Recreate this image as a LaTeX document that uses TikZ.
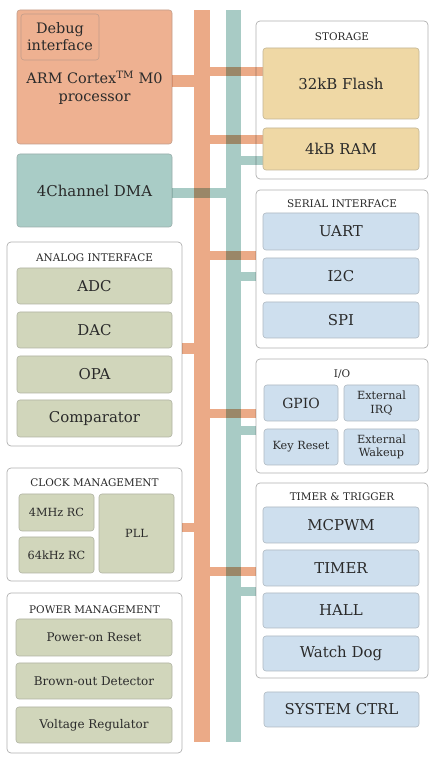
\documentclass[tikz,border=0pt]{standalone}
\usepackage{fontspec}
\setmainfont{DejaVu Serif}
\definecolor{busorange}{HTML}{EBAA87}
\definecolor{busteal}{HTML}{A8CBC5}
\definecolor{armfill}{HTML}{EEB191}
\definecolor{dmafill}{HTML}{A9CCC6}
\definecolor{memfill}{HTML}{EFD8A5}
\definecolor{perfill}{HTML}{CEDFEE}
\definecolor{anafill}{HTML}{D1D6BB}
\definecolor{grpline}{HTML}{B0B0B0}
\definecolor{txtgray}{HTML}{2A2A2A}
\tikzset{
  grp/.style={draw=grpline,fill=white,rounded corners=4bp,line width=0.7bp,inner sep=0pt},
  blk/.style={draw=#1!60!gray,fill=#1,rounded corners=3bp,line width=0.6bp,inner sep=1bp,
    align=center,text=txtgray,font=\fontsize{15}{17}\selectfont},
  grptitle/.style={text=txtgray,font=\fontsize{10.5}{12}\selectfont},
  smalltext/.style={font=\fontsize{12}{14}\selectfont},
  tinytext/.style={font=\fontsize{11.3}{13.5}\selectfont},
  bus/.style={draw=none,inner sep=0pt,minimum height=732bp},
  syslink/.style={busorange,line width=9bp,blend mode=multiply},
  dmalink/.style={busteal,line width=9bp,blend mode=multiply},
}
\begin{document}
\begin{tikzpicture}[>=latex,line join=bevel,]
\useasboundingbox (0bp,0bp) rectangle (438bp,762bp);
%% groups
\node (grp_storage) at (342bp,662bp) [grp,minimum width=172bp,minimum height=158bp] {};
  \node (grp_serial) at (342bp,493bp) [grp,minimum width=172bp,minimum height=158bp] {};
  \node (grp_io) at (342bp,346bp) [grp,minimum width=172bp,minimum height=114bp] {};
  \node (grp_timer) at (342bp,181.5bp) [grp,minimum width=172bp,minimum height=195bp] {};
  \node (grp_analog) at (94.5bp,418bp) [grp,minimum width=175bp,minimum height=204bp] {};
  \node (grp_clock) at (94.5bp,237.5bp) [grp,minimum width=175bp,minimum height=113bp] {};
  \node (grp_power) at (94.5bp,89bp) [grp,minimum width=175bp,minimum height=160bp] {};
%% buses
\node (bus_sys) at (202bp,386bp) [bus,fill=busorange,minimum width=16bp] {};
  \node (bus_dma) at (233.5bp,386bp) [bus,fill=busteal,minimum width=15bp] {};
%% masters
\node (blk_arm) at (94.5bp,685bp) [blk=armfill,minimum width=155bp,minimum height=134bp] {};
  \node (blk_debug) at (60bp,725bp) [blk=armfill,minimum width=78bp,minimum height=46bp,font=\fontsize{14.5}{17}\selectfont] {Debug\\interface};
  \node (lbl_arm) at (94.5bp,674bp) [align=center,text=txtgray,font=\fontsize{14.5}{18}\selectfont] {ARM Cortex\textsuperscript{TM} M0\\processor};
  \node (blk_dma) at (94.5bp,571.5bp) [blk=dmafill,minimum width=155bp,minimum height=73bp] {4Channel DMA};
%% ports
\coordinate (port_arm) at (172bp,680.5bp);
  \coordinate (port_dma) at (172bp,569bp);
  \coordinate (port_flash) at (263bp,690.5bp);
  \coordinate (port_ram_s) at (263bp,622.5bp);
  \coordinate (port_ram_d) at (263bp,601.5bp);
  \coordinate (port_serial_s) at (256bp,506bp);
  \coordinate (port_serial_d) at (256bp,485bp);
  \coordinate (port_analog) at (182bp,413.5bp);
  \coordinate (port_io_s) at (256bp,348bp);
  \coordinate (port_io_d) at (256bp,331bp);
  \coordinate (port_clock) at (182bp,234.5bp);
  \coordinate (port_timer_s) at (256bp,190.5bp);
  \coordinate (port_timer_d) at (256bp,170.5bp);
%% links
\draw [syslink,line width=12bp] (port_arm) -- (port_arm -| bus_sys.west);
  \draw [dmalink,line width=10bp] (port_dma) -- (port_dma -| bus_dma.west);
  \draw [syslink] (bus_sys.east |- port_flash) -- (port_flash);
  \draw [syslink] (bus_sys.east |- port_ram_s) -- (port_ram_s);
  \draw [dmalink] (bus_dma.east |- port_ram_d) -- (port_ram_d);
  \draw [syslink] (bus_sys.east |- port_serial_s) -- (port_serial_s);
  \draw [dmalink] (bus_dma.east |- port_serial_d) -- (port_serial_d);
  \draw [syslink,line width=11bp] (port_analog) -- (port_analog -| bus_sys.west);
  \draw [syslink] (bus_sys.east |- port_io_s) -- (port_io_s);
  \draw [dmalink] (bus_dma.east |- port_io_d) -- (port_io_d);
  \draw [syslink] (port_clock) -- (port_clock -| bus_sys.west);
  \draw [syslink] (bus_sys.east |- port_timer_s) -- (port_timer_s);
  \draw [dmalink] (bus_dma.east |- port_timer_d) -- (port_timer_d);
%% storage
\node (ttl_storage) at (342bp,725bp) [grptitle] {STORAGE};
  \node (blk_flash) at (341bp,678.5bp) [blk=memfill,minimum width=156bp,minimum height=71bp] {32kB Flash};
  \node (blk_ram) at (341bp,613bp) [blk=memfill,minimum width=156bp,minimum height=42bp] {4kB RAM};
%% serial interface
\node (ttl_serial) at (342bp,558bp) [grptitle] {SERIAL INTERFACE};
  \node (blk_uart) at (341bp,530.5bp) [blk=perfill,minimum width=156bp,minimum height=37bp] {UART};
  \node (blk_i2c) at (341bp,486bp) [blk=perfill,minimum width=156bp,minimum height=36bp] {I2C};
  \node (blk_spi) at (341bp,442bp) [blk=perfill,minimum width=156bp,minimum height=36bp] {SPI};
%% i/o
\node (ttl_io) at (342bp,388bp) [grptitle] {I/O};
  \node (blk_gpio) at (301bp,359bp) [blk=perfill,minimum width=74bp,minimum height=36bp,font=\fontsize{14}{16}\selectfont] {GPIO};
  \node (blk_irq) at (381.5bp,359bp) [blk=perfill,tinytext,minimum width=75bp,minimum height=36bp] {External\\IRQ};
  \node (blk_key) at (301bp,315bp) [blk=perfill,tinytext,minimum width=74bp,minimum height=36bp] {Key Reset};
  \node (blk_wake) at (381.5bp,315bp) [blk=perfill,tinytext,minimum width=75bp,minimum height=36bp] {External\\Wakeup};
%% timer & trigger
\node (ttl_timer) at (342bp,265bp) [grptitle] {TIMER \& TRIGGER};
  \node (blk_mcpwm) at (341bp,237bp) [blk=perfill,minimum width=156bp,minimum height=36bp] {MCPWM};
  \node (blk_timer) at (341bp,194bp) [blk=perfill,minimum width=156bp,minimum height=36bp] {TIMER};
  \node (blk_hall) at (341bp,151.5bp) [blk=perfill,minimum width=156bp,minimum height=35bp] {HALL};
  \node (blk_wdog) at (341bp,108.5bp) [blk=perfill,minimum width=156bp,minimum height=35bp] {Watch Dog};
  \node (blk_sysctrl) at (341.5bp,52.5bp) [blk=perfill,minimum width=155bp,minimum height=35bp] {SYSTEM CTRL};
%% analog interface
\node (ttl_analog) at (94.5bp,504bp) [grptitle] {ANALOG INTERFACE};
  \node (blk_adc) at (94.5bp,476bp) [blk=anafill,minimum width=155bp,minimum height=36bp] {ADC};
  \node (blk_dac) at (94.5bp,432bp) [blk=anafill,minimum width=155bp,minimum height=36bp] {DAC};
  \node (blk_opa) at (94.5bp,387.5bp) [blk=anafill,minimum width=155bp,minimum height=37bp] {OPA};
  \node (blk_comp) at (94.5bp,343.5bp) [blk=anafill,minimum width=155bp,minimum height=37bp] {Comparator};
%% clock management
\node (ttl_clock) at (94.5bp,279bp) [grptitle] {CLOCK MANAGEMENT};
  \node (blk_rc4) at (56.5bp,249.5bp) [blk=anafill,tinytext,minimum width=75bp,minimum height=37bp] {4MHz RC};
  \node (blk_rc64) at (56.5bp,207bp) [blk=anafill,tinytext,minimum width=75bp,minimum height=36bp] {64kHz RC};
  \node (blk_pll) at (136.5bp,228.5bp) [blk=anafill,tinytext,minimum width=75bp,minimum height=79bp] {PLL};
%% power management
\node (ttl_power) at (94.5bp,152bp) [grptitle] {POWER MANAGEMENT};
  \node (blk_por) at (94bp,124.5bp) [blk=anafill,smalltext,minimum width=156bp,minimum height=37bp] {Power-on Reset};
  \node (blk_bod) at (94bp,81bp) [blk=anafill,smalltext,minimum width=156bp,minimum height=36bp] {Brown-out Detector};
  \node (blk_vreg) at (94bp,37bp) [blk=anafill,smalltext,minimum width=156bp,minimum height=36bp] {Voltage Regulator};
%
\end{tikzpicture}
\end{document}
